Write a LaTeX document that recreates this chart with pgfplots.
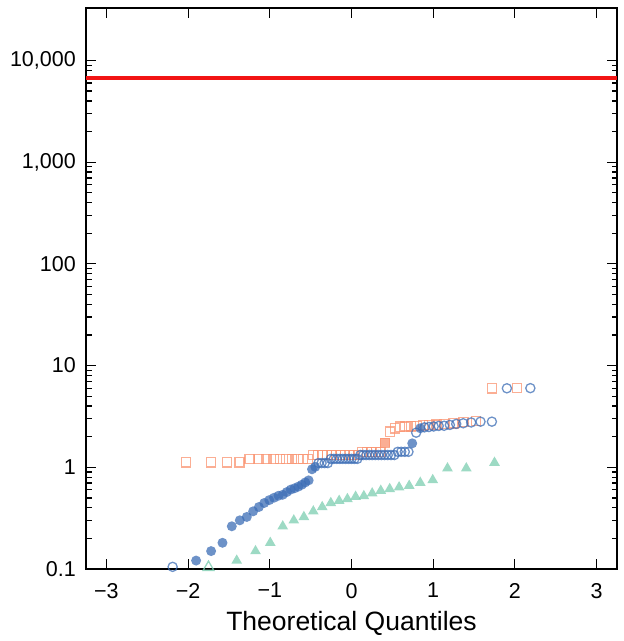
\documentclass[border=0pt]{standalone}
\usepackage{fontspec}
\setmainfont{Liberation Sans}
\usepackage{pgfplots}
\pgfplotsset{compat=1.18}
\definecolor{cblue}{HTML}{3C6DB5}
\definecolor{corange}{HTML}{FA9370}
\definecolor{cgreen}{HTML}{7CCDB0}
\definecolor{cred}{HTML}{F21414}
\begin{document}
\begin{tikzpicture}
\useasboundingbox (0,0) rectangle (624bp,641bp);
\begin{axis}[
  at={(86bp,72bp)}, anchor=south west,
  scale only axis, width=531bp, height=561bp,
  xmin=-3.25, xmax=3.25,
  ymode=log, ymin=0.1, ymax=32800,
  xtick={-3,-2,-1,0,1,2,3},
  xticklabels={−3,−2,−1,0,1,2,3},
  ytick={0.1,1,10,100,1000,10000},
  yticklabels={0.1,1,10,100,{1,000},{10,000}},
  tick align=inside,
  major tick length=10bp, minor tick length=5.5bp,
  axis line style={line width=2bp},
  every tick/.style={black, line width=1.2bp},
  xticklabel style={font=\fontsize{21.5bp}{25bp}\selectfont, inner sep=0pt, anchor=north, yshift=-14bp},
  yticklabel style={font=\fontsize{21.5bp}{25bp}\selectfont, inner sep=0pt, anchor=east, xshift=-10bp},
  xlabel={Theoretical Quantiles},
  xlabel style={font=\fontsize{26.5bp}{30bp}\selectfont, at={(axis description cs:0.5,0)}, anchor=north, inner sep=0pt, yshift=-42bp},
  clip=false,
]
\addplot[no marks, cred, line width=3.5bp] coordinates {(-3.25,6700) (3.25,6700)};

% orange squares (open)
\addplot[only marks, mark=square, mark size=4.6bp, corange, draw opacity=0.75, line width=1.3bp] table {
x y
-2.0280 1.12
-1.7224 1.12
-1.5236 1.12
-1.3716 1.12
-1.2463 1.21
-1.1372 1.21
-1.0404 1.21
-0.9532 1.21
-0.8724 1.21
-0.7971 1.21
-0.7262 1.21
-0.6580 1.21
-0.5929 1.21
-0.5302 1.21
-0.4696 1.32
-0.4109 1.32
-0.3536 1.32
-0.2975 1.32
-0.2422 1.32
-0.1877 1.32
-0.1337 1.32
-0.0800 1.32
-0.0267 1.32
0.0267 1.32
0.0800 1.32
0.1337 1.42
0.1877 1.42
0.2422 1.42
0.2975 1.42
0.3536 1.42
0.4696 2.24
0.5302 2.42
0.5929 2.51
0.6580 2.52
0.7262 2.53
0.7971 2.55
0.8724 2.58
0.9532 2.60
1.0404 2.62
1.1372 2.65
1.2463 2.70
1.3716 2.80
1.5236 2.85
1.7224 5.98
2.0280 6.00
};
% orange square (filled)
\addplot[only marks, mark=square*, mark size=4.6bp, corange, mark options={fill opacity=0.75, draw opacity=0.75}] table {
x y
0.4109 1.75
};

% blue circles (open)
\addplot[only marks, mark=o, mark size=4.6bp, cblue, draw opacity=0.75, line width=1.3bp] table {
x y
-2.1894 0.105
-0.4047 1.10
-0.3665 1.10
-0.3285 1.10
-0.2905 1.10
-0.2533 1.21
-0.2169 1.21
-0.1800 1.21
-0.1439 1.21
-0.1077 1.21
-0.0717 1.21
-0.0358 1.21
0.0000 1.21
0.0358 1.21
0.0717 1.21
0.1077 1.32
0.1439 1.32
0.1800 1.32
0.2169 1.32
0.2533 1.32
0.2905 1.32
0.3285 1.32
0.3665 1.32
0.4047 1.32
0.4437 1.32
0.4835 1.32
0.5244 1.32
0.5659 1.42
0.6085 1.42
0.6522 1.42
0.6971 1.42
0.7916 2.19
0.8934 2.47
0.9482 2.49
1.0062 2.52
1.0676 2.55
1.1335 2.56
1.2042 2.61
1.2816 2.67
1.3672 2.71
1.4652 2.76
1.5792 2.81
1.7185 2.81
1.9022 5.98
2.1894 6.00
};
% blue circles (filled)
\addplot[only marks, mark=*, mark size=5bp, cblue, mark options={fill opacity=0.75, draw opacity=0}] table {
x y
-1.9022 0.121
-1.7185 0.150
-1.5792 0.181
-1.4652 0.263
-1.3672 0.301
-1.2816 0.325
-1.2042 0.369
-1.1335 0.407
-1.0676 0.446
-1.0062 0.476
-0.9482 0.502
-0.8934 0.525
-0.8416 0.537
-0.7916 0.571
-0.7434 0.604
-0.6971 0.622
-0.6522 0.645
-0.6085 0.673
-0.5659 0.710
-0.5244 0.744
-0.4835 0.956
-0.4437 1.01
0.7434 1.72
0.8416 2.42
};

% green triangles (open)
\addplot[only marks, mark=triangle, mark size=6.2bp, cgreen, draw opacity=0.8, line width=1.3bp] table {
x y
-1.7507 0.104
};
% green triangles (filled)
\addplot[only marks, mark=triangle*, mark size=6.2bp, cgreen, mark options={fill opacity=0.75, draw opacity=0}] table {
x y
-1.4051 0.121
-1.1750 0.150
-0.9945 0.181
-0.8416 0.263
-0.7063 0.301
-0.5828 0.325
-0.4677 0.369
-0.3585 0.407
-0.2533 0.446
-0.1510 0.469
-0.0502 0.488
0.0502 0.514
0.1510 0.522
0.2533 0.555
0.3585 0.589
0.4677 0.612
0.5828 0.636
0.7063 0.659
0.8416 0.706
0.9945 0.750
1.1750 0.978
1.4051 0.978
1.7507 1.11
};
\end{axis}
\end{tikzpicture}
\end{document}
